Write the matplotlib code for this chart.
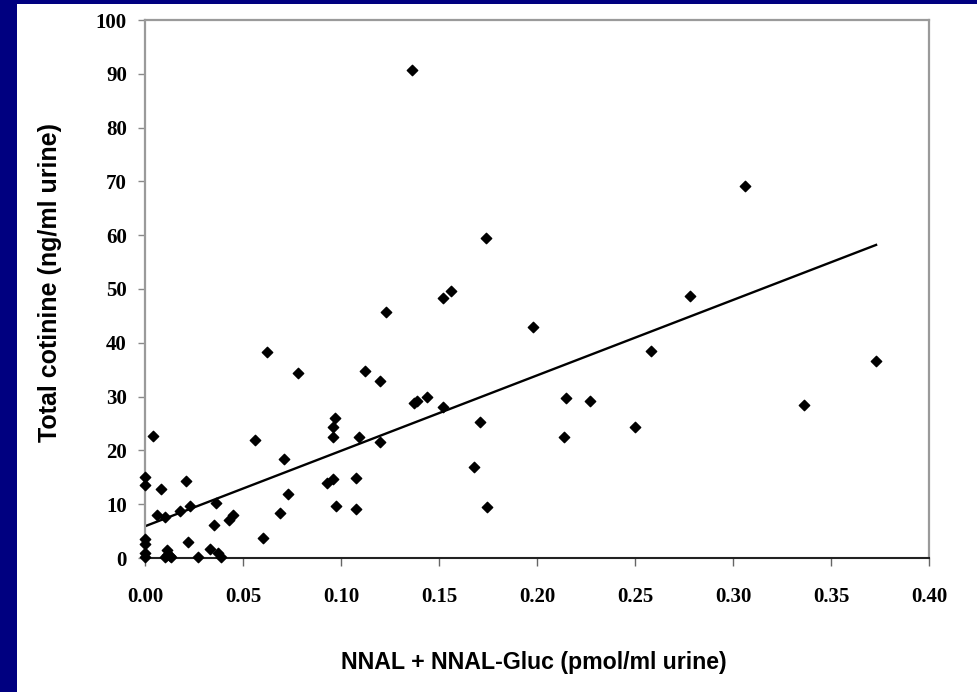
import matplotlib.pyplot as plt
import numpy as np
from matplotlib.patches import Rectangle

# NNAL + NNAL-Gluc (pmol/ml urine) vs total cotinine (ng/ml urine)
nnal = [0.000, 0.000, 0.000, 0.000, 0.000, 0.000, 0.004, 0.006, 0.008, 0.010,
        0.010, 0.011, 0.011, 0.0125, 0.0135, 0.018, 0.021, 0.022, 0.023, 0.027,
        0.033, 0.035, 0.036, 0.037, 0.039, 0.043, 0.045, 0.056, 0.060, 0.062,
        0.069, 0.071, 0.073, 0.078, 0.093, 0.096, 0.096, 0.096, 0.097, 0.0975,
        0.1075, 0.1075, 0.109, 0.112, 0.120, 0.120, 0.123, 0.136, 0.137, 0.139,
        0.144, 0.152, 0.152, 0.156, 0.168, 0.171, 0.174, 0.1745, 0.198, 0.214,
        0.215, 0.227, 0.250, 0.258, 0.278, 0.306, 0.336, 0.373]
cotinine = [15.1, 13.6, 3.5, 2.6, 1.0, 0.2, 22.7, 8.0, 12.8, 7.6,
            0.2, 1.5, 0.6, 0.4, 0.2, 8.7, 14.3, 3.0, 9.7, 0.2,
            1.7, 6.1, 10.2, 0.9, 0.2, 7.1, 8.0, 21.9, 3.7, 38.3,
            8.3, 18.4, 11.9, 34.4, 13.9, 14.7, 22.5, 24.3, 26.0, 9.7,
            14.9, 9.1, 22.5, 34.8, 32.9, 21.6, 45.8, 90.7, 28.8, 29.1,
            30.0, 28.1, 48.3, 49.6, 17.0, 25.3, 59.5, 9.5, 43.0, 22.5,
            29.7, 29.2, 24.4, 38.5, 48.7, 69.1, 28.4, 36.6]

# regression line
fit_intercept = 5.9
fit_slope = 140.2

x_ticks = [0.00, 0.05, 0.10, 0.15, 0.20, 0.25, 0.30, 0.35, 0.40]
y_ticks = [0, 10, 20, 30, 40, 50, 60, 70, 80, 90, 100]

navy = '#000080'

fig = plt.figure(figsize=(9.78, 6.92), dpi=100, facecolor=navy)
# white slide area behind the chart
fig.patches.append(Rectangle((17 / 978, 0), 1, 1 - 4 / 692, transform=fig.transFigure,
                             facecolor='white', edgecolor='none', zorder=-10))

ax = fig.add_axes([145 / 978, 1 - 558 / 692, 784 / 978, 538 / 692])
ax.set_facecolor('white')

x = np.array(nnal)
y = np.array(cotinine)
ax.scatter(x, y, marker='D', s=28, color='black', zorder=3, clip_on=False)

xl = np.array([0, x.max()])
ax.plot(xl, fit_intercept + fit_slope * xl, color='black', lw=1.7, zorder=2)

ax.set_xlim(0, 0.40)
ax.set_ylim(0, 100)
ax.set_xticks(x_ticks)
ax.set_yticks(y_ticks)
ax.set_xticklabels([f'{v:.2f}' for v in x_ticks])
ax.set_yticklabels([str(v) for v in y_ticks])

for lab in ax.get_xticklabels() + ax.get_yticklabels():
    lab.set_fontfamily('Liberation Serif')
    lab.set_fontweight('bold')
    lab.set_fontsize(15)

ax.tick_params(axis='y', direction='out', length=5, width=1, color='#888888', pad=8)
ax.tick_params(axis='x', direction='out', length=6, width=1, color='#666666', pad=15)

for side in ['top', 'right', 'left']:
    ax.spines[side].set_color('#9a9a9a')
    ax.spines[side].set_linewidth(1.6)
ax.spines['bottom'].set_color('#222222')
ax.spines['bottom'].set_linewidth(1.5)

ax.set_xlabel('NNAL + NNAL-Gluc (pmol/ml urine)', fontfamily='Liberation Sans',
              fontweight='bold', fontsize=16.7)
ax.set_ylabel('Total cotinine (ng/ml urine)', fontfamily='Liberation Sans',
              fontweight='bold', fontsize=18)
ax.xaxis.set_label_coords(0.496, -0.172)
ax.yaxis.set_label_coords(-0.106, 0.512)

plt.savefig('out.png', dpi=100, facecolor=navy)
